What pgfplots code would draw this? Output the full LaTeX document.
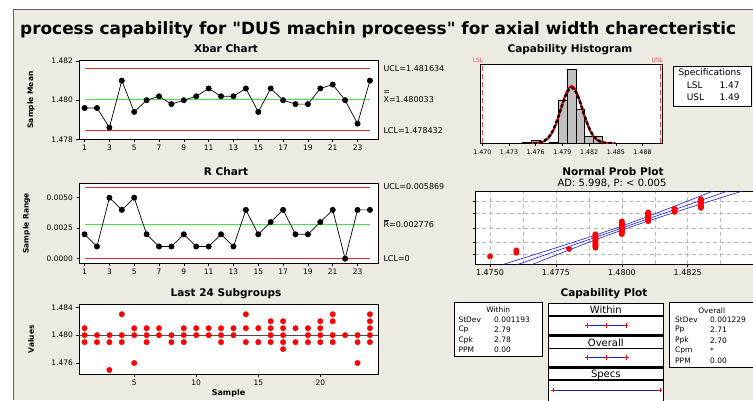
\documentclass[border=0pt]{standalone}
\usepackage{fontspec}
\setmainfont{DejaVu Sans}
\usepackage{pgfplots}
\pgfplotsset{compat=1.18}
\definecolor{bg}{RGB}{237,234,225}
\definecolor{frm}{RGB}{95,95,95}
\definecolor{clred}{RGB}{236,40,45}
\definecolor{clgreen}{RGB}{60,232,60}
\definecolor{ptred}{RGB}{255,0,0}
\definecolor{hgray}{RGB}{192,192,192}
\definecolor{nblue}{RGB}{25,25,235}
\definecolor{slred}{RGB}{255,70,70}
\newcommand\fs[1]{\fontsize{#1}{#1}\selectfont}
\pgfplotsset{
  mini/.style={
    scale only axis, anchor=south west,
    axis background/.style={fill=white},
    tick align=outside, tick pos=left,
    major tick length=2.5pt, minor tick length=0pt,
    every tick/.style={black, line width=0.5pt},
    axis line style={line width=0.7pt},
    /pgf/number format/assume math mode=true,
    tick label style={font=\fs{7.5}},
    scaled ticks=false,
    xlabel style={font=\bfseries\fs{8}},
    ylabel style={font=\bfseries\fs{7.5}, anchor=center},
  },
}
\begin{document}
\begin{tikzpicture}
\useasboundingbox (0,0) rectangle (753pt,400pt);
\clip (0,0) rectangle (753pt,400pt);
\fill[white] (0,0) rectangle (753pt,400pt);
\fill[bg] (13pt,0) rectangle (753pt,391pt);
\draw[frm, line width=1.5pt] (13.5pt,0) -- (13.5pt,390.5pt) -- (753pt,390.5pt);
\node[anchor=base west, font=\bfseries\fs{16.9}, inner sep=0] at (20pt,365.7pt) {process capability for \textquotedbl DUS machin proceess\textquotedbl{} for axial width charecteristic};

% subplot titles
\node[anchor=base, font=\bfseries\fs{10.5}, inner sep=0] at (226pt,347pt) {Xbar Chart};
\node[anchor=base, font=\bfseries\fs{10.5}, inner sep=0] at (226pt,225pt) {R Chart};
\node[anchor=base, font=\bfseries\fs{10.5}, inner sep=0] at (226pt,104pt) {Last 24 Subgroups};
\node[anchor=base, font=\bfseries\fs{10.5}, inner sep=0] at (570pt,347pt) {Capability Histogram};
\node[anchor=base, font=\bfseries\fs{10.5}, inner sep=0] at (613pt,225pt) {Normal Prob Plot};
\node[anchor=base, font=\fs{10}, inner sep=0] at (612pt,214pt) {AD: 5.998, P: < 0.005};
\node[anchor=base, font=\bfseries\fs{10.5}, inner sep=0] at (604pt,103.3pt) {Capability Plot};

% Xbar chart
\begin{axis}[mini, at={(79pt,260.7pt)}, width=299pt, height=78.6pt,
  xmin=0.55, xmax=24.65, ymin=1.478, ymax=1.48202,
  xtick={1,3,...,23}, ytick={1.478,1.480,1.482},
  yticklabel style={/pgf/number format/fixed, /pgf/number format/fixed zerofill, /pgf/number format/precision=3},
  ylabel={Sample Mean}, ylabel style={at={(axis description cs:-0.16,0.5)}}]
\addplot[clred, line width=0.9pt] coordinates {(1,1.481634) (24,1.481634)};
\addplot[clred, line width=0.9pt] coordinates {(1,1.478432) (24,1.478432)};
\addplot[clgreen, line width=0.9pt] coordinates {(1,1.480033) (24,1.480033)};
\addplot[black, line width=0.7pt, mark=*, mark size=2.6pt] coordinates {
(1,1.4796) (2,1.4796) (3,1.4786) (4,1.4810) (5,1.4794) (6,1.4800) (7,1.4802) (8,1.4798)
(9,1.4800) (10,1.4802) (11,1.4806) (12,1.4802) (13,1.4802) (14,1.4806) (15,1.4794) (16,1.4806)
(17,1.4800) (18,1.4798) (19,1.4798) (20,1.4806) (21,1.4808) (22,1.4800) (23,1.4788) (24,1.4810)};
\end{axis}
\node[anchor=west, font=\fs{8}] at (380pt,331pt) {UCL=1.481634};
\node[anchor=west, font=\fs{8}] at (380pt,300pt) {X=1.480033};
\node[anchor=center, font=\fs{8}, inner sep=0] at (386.8pt,307.5pt) {=};
\node[anchor=west, font=\fs{8}] at (380pt,269.3pt) {LCL=1.478432};

% R chart
\begin{axis}[mini, at={(79pt,136.7pt)}, width=299pt, height=80pt,
  xmin=0.55, xmax=24.65, ymin=-0.000377, ymax=0.00618,
  xtick={1,3,...,23}, ytick={0,0.0025,0.005},
  yticklabel style={/pgf/number format/fixed, /pgf/number format/fixed zerofill, /pgf/number format/precision=4},
  ylabel={Sample Range}, ylabel style={at={(axis description cs:-0.175,0.5)}}]
\addplot[clred, line width=0.9pt] coordinates {(1,0.005869) (24,0.005869)};
\addplot[clred, line width=0.9pt] coordinates {(1,0) (24,0)};
\addplot[clgreen, line width=0.9pt] coordinates {(1,0.002776) (24,0.002776)};
\addplot[black, line width=0.7pt, mark=*, mark size=2.6pt] coordinates {
(1,0.002) (2,0.001) (3,0.005) (4,0.004) (5,0.005) (6,0.002) (7,0.001) (8,0.001)
(9,0.002) (10,0.001) (11,0.001) (12,0.002) (13,0.001) (14,0.004) (15,0.002) (16,0.003)
(17,0.004) (18,0.002) (19,0.002) (20,0.003) (21,0.004) (22,0) (23,0.004) (24,0.004)};
\end{axis}
\node[anchor=west, font=\fs{8}] at (380pt,213.3pt) {UCL=0.005869};
\node[anchor=west, font=\fs{8}] at (380pt,176pt) {$\overline{\mbox{R}}$=0.002776};
\node[anchor=west, font=\fs{8}] at (380pt,141.7pt) {LCL=0};

% Last 24 subgroups
\begin{axis}[mini, at={(79pt,25.7pt)}, width=299pt, height=70pt,
  xmin=0.55, xmax=24.65, ymin=1.47438, ymax=1.48443,
  xtick={5,10,15,20}, ytick={1.476,1.480,1.484},
  yticklabel style={/pgf/number format/fixed, /pgf/number format/fixed zerofill, /pgf/number format/precision=3},
  xlabel={Sample}, xlabel style={at={(axis description cs:0.5,-0.27)}, anchor=center},
  ylabel={Values}, ylabel style={at={(axis description cs:-0.16,0.5)}}]
\addplot[black!70, line width=0.8pt] coordinates {(0.55,1.480033) (24.65,1.480033)};
\addplot[only marks, mark=*, mark size=2.7pt, ptred, mark options={draw=ptred, fill=ptred}] coordinates {
(1,1.481) (1,1.480) (1,1.479)
(2,1.480) (2,1.479)
(3,1.480) (3,1.479) (3,1.475)
(4,1.483) (4,1.480) (4,1.479)
(5,1.481) (5,1.480) (5,1.476)
(6,1.481) (6,1.480) (6,1.479)
(7,1.481) (7,1.480)
(8,1.480) (8,1.479)
(9,1.481) (9,1.480) (9,1.479)
(10,1.481) (10,1.480)
(11,1.481) (11,1.480)
(12,1.481) (12,1.480) (12,1.479)
(13,1.481) (13,1.480)
(14,1.483) (14,1.481) (14,1.479)
(15,1.481) (15,1.479)
(16,1.482) (16,1.481) (16,1.480) (16,1.479)
(17,1.482) (17,1.481) (17,1.480) (17,1.479) (17,1.478)
(18,1.481) (18,1.479)
(19,1.481) (19,1.480) (19,1.479)
(20,1.482) (20,1.481) (20,1.480) (20,1.479)
(21,1.483) (21,1.482) (21,1.480) (21,1.479)
(22,1.480)
(23,1.480) (23,1.479) (23,1.476)
(24,1.483) (24,1.482) (24,1.481) (24,1.480) (24,1.479)};
\end{axis}

% Capability histogram
\begin{axis}[mini, at={(480pt,256.7pt)}, width=182.7pt, height=78.8pt,
  xmin=1.46974, xmax=1.49027, ymin=0, ymax=55.3,
  xtick={1.470,1.473,1.476,1.479,1.482,1.485,1.488}, ytick=\empty,
  tick label style={font=\fs{6.3}},
  xticklabel style={/pgf/number format/fixed, /pgf/number format/fixed zerofill, /pgf/number format/precision=3}]
\addplot[ybar, bar width=0.001, bar shift=0pt, fill=hgray, draw=black, line width=0.5pt] coordinates {
(1.475,1) (1.476,2) (1.478,1) (1.479,30) (1.480,52) (1.481,24) (1.482,5) (1.483,5)};
\addplot[slred, line width=1.1pt, dash pattern=on 5pt off 3pt] coordinates {(1.47,0) (1.47,55.3)};
\addplot[slred, line width=1.1pt, dash pattern=on 5pt off 3pt] coordinates {(1.49,0) (1.49,55.3)};
\addplot[ptred, line width=2pt, smooth] coordinates {
(1.475261,0.013) (1.4758575,0.088) (1.476454,0.446) (1.4767523,0.915) (1.4770505,1.763)
(1.4773488,3.193) (1.477647,5.431) (1.4779453,8.679) (1.4782435,13.028) (1.4785418,18.373)
(1.47884,24.340) (1.4791383,30.292) (1.4794365,35.415) (1.4797348,38.895) (1.480033,40.13)
(1.4803313,38.895) (1.4806295,35.415) (1.4809278,30.292) (1.481226,24.340) (1.4815243,18.373)
(1.4818225,13.028) (1.4821208,8.679) (1.482419,5.431) (1.4827173,3.193) (1.4830155,1.763)
(1.4833138,0.915) (1.483612,0.446) (1.4842085,0.088) (1.484805,0.013)};
\addplot[black, line width=2.4pt, smooth, dash pattern=on 3.5pt off 2pt] coordinates {
(1.475117,0.013) (1.4757315,0.085) (1.476346,0.433) (1.4766533,0.888) (1.4769605,1.711)
(1.4772678,3.099) (1.477575,5.271) (1.4778823,8.424) (1.4781895,12.645) (1.4784968,17.833)
(1.478804,23.624) (1.4791113,29.401) (1.4794185,34.373) (1.4797258,37.752) (1.480033,38.95)
(1.4803403,37.752) (1.4806475,34.373) (1.4809548,29.401) (1.481262,23.624) (1.4815693,17.833)
(1.4818765,12.645) (1.4821838,8.424) (1.482491,5.271) (1.4827983,3.099) (1.4831055,1.711)
(1.4834128,0.888) (1.48372,0.433) (1.4843345,0.085) (1.484949,0.013)};
\end{axis}
\node[font=\fs{6}, text=slred, inner sep=0] at (478pt,339.2pt) {LSL};
\node[font=\fs{6}, text=slred, inner sep=0] at (657.5pt,339.2pt) {USL};
% Specifications box
\draw[black, line width=0.8pt, fill=white] (673.3pt,294pt) rectangle (751.7pt,333.3pt);
\node[anchor=west, font=\fs{9}, inner sep=0] at (678.3pt,326.7pt) {Specifications};
\node[anchor=west, font=\fs{9}, inner sep=0] at (686.7pt,314.3pt) {LSL};
\node[anchor=west, font=\fs{9}, inner sep=0] at (719.3pt,314.3pt) {1.47};
\node[anchor=west, font=\fs{9}, inner sep=0] at (686.7pt,302.3pt) {USL};
\node[anchor=west, font=\fs{9}, inner sep=0] at (719.3pt,302.3pt) {1.49};

% Normal probability plot
\begin{axis}[mini, at={(475pt,136pt)}, width=281pt, height=72.5pt,
  xmin=1.474431, xmax=1.485091, ymin=-3.2, ymax=3.2,
  xtick={1.475,1.4775,1.48,1.4825}, minor xtick={1.47625,1.47875,1.48125,1.48375},
  ytick={-2.326,-1.2816,0,1.2816,2.326}, yticklabels={},
  grid=both, grid style={dash pattern=on 4pt off 3pt, gray!55, line width=0.5pt},
  minor grid style={dash pattern=on 4pt off 3pt, gray!55, line width=0.5pt},
  tick label style={font=\fs{8}},
  xticklabel style={/pgf/number format/fixed, /pgf/number format/fixed zerofill, /pgf/number format/precision=4}]
\addplot[nblue, line width=0.6pt, smooth] coordinates {
(1.4754857,-3.25) (1.475829,-3) (1.476513,-2.5) (1.477193,-2) (1.477869,-1.5) (1.478534,-1)
(1.479186,-0.5) (1.479813,0) (1.480415,0.5) (1.480992,1) (1.481556,1.5) (1.482109,2)
(1.482658,2.5) (1.483203,3) (1.4834743,3.25)};
\addplot[nblue, line width=0.6pt, smooth] coordinates {
(1.4765917,-3.25) (1.476864,-3) (1.477409,-2.5) (1.477957,-2) (1.478511,-1.5) (1.479074,-1)
(1.479652,-0.5) (1.480253,0) (1.480881,0.5) (1.481532,1) (1.482198,1.5) (1.482873,2)
(1.483554,2.5) (1.484238,3) (1.4845803,3.25)};
\addplot[nblue, line width=0.6pt] coordinates {(1.4760387,-3.25) (1.4840273,3.25)};
\addplot[only marks, mark=*, mark size=2.7pt, mark options={draw=ptred, fill=ptred}] coordinates {
(1.475,-2.524)
(1.476,-2.194) (1.476,-2.006)
(1.478,-1.870)
(1.479,-1.762) (1.479,-1.65) (1.479,-1.55) (1.479,-1.45) (1.479,-1.35) (1.479,-1.25) (1.479,-1.15)
(1.479,-1.05) (1.479,-0.95) (1.479,-0.85) (1.479,-0.75) (1.479,-0.65) (1.479,-0.583)
(1.480,-0.559) (1.480,-0.45) (1.480,-0.35) (1.480,-0.25) (1.480,-0.15) (1.480,-0.05)
(1.480,0.05) (1.480,0.15) (1.480,0.25) (1.480,0.35) (1.480,0.45) (1.480,0.558)
(1.481,0.583) (1.481,0.68) (1.481,0.78) (1.481,0.88) (1.481,0.98) (1.481,1.08) (1.481,1.18) (1.481,1.28) (1.481,1.347)
(1.482,1.401) (1.482,1.47) (1.482,1.54) (1.482,1.61) (1.482,1.672)
(1.483,1.764) (1.483,1.85) (1.483,1.95) (1.483,2.05) (1.483,2.15) (1.483,2.25) (1.483,2.35) (1.483,2.45) (1.483,2.524)};
\end{axis}

% Capability plot frames
\draw[black, line width=0.8pt, fill=white] (454pt,43.3pt) rectangle (542.7pt,97.3pt);
\draw[black, line width=0.8pt, fill=white] (669.3pt,32.7pt) rectangle (760pt,97.3pt);
\draw[black, line width=1.2pt, fill=white] (548.3pt,84pt) rectangle (663.3pt,96.7pt);
\draw[black, line width=1.2pt, fill=white] (548.3pt,65pt) rectangle (663.3pt,84pt);
\draw[black, line width=1.2pt, fill=white] (548.3pt,51.7pt) rectangle (663.3pt,63.7pt);
\draw[black, line width=1.2pt, fill=white] (548.3pt,33pt) rectangle (663.3pt,51.7pt);
\draw[black, line width=1.2pt, fill=white] (548.3pt,20pt) rectangle (663.3pt,31.7pt);
\draw[black, line width=1.2pt, fill=white] (548.3pt,-3pt) rectangle (663.3pt,20pt);
\node[font=\fs{10}, inner sep=0] at (605.8pt,90.5pt) {Within};
\node[font=\fs{10}, inner sep=0] at (605.8pt,57.5pt) {Overall};
\node[font=\fs{10}, inner sep=0] at (605.8pt,25.5pt) {Specs};
\node[font=\fs{7.5}, inner sep=0] at (498.3pt,90pt) {Within};
\node[anchor=west, font=\fs{7.5}, inner sep=0] at (458.3pt,80.7pt) {StDev};
\node[anchor=west, font=\fs{7.5}, inner sep=0] at (494pt,80.7pt) {0.001193};
\node[anchor=west, font=\fs{7.5}, inner sep=0] at (458.3pt,70.7pt) {Cp};
\node[anchor=west, font=\fs{7.5}, inner sep=0] at (494pt,70.7pt) {2.79};
\node[anchor=west, font=\fs{7.5}, inner sep=0] at (458.3pt,60pt) {Cpk};
\node[anchor=west, font=\fs{7.5}, inner sep=0] at (494pt,60pt) {2.78};
\node[anchor=west, font=\fs{7.5}, inner sep=0] at (458.3pt,50pt) {PPM};
\node[anchor=west, font=\fs{7.5}, inner sep=0] at (494pt,50pt) {0.00};
\node[font=\fs{7.5}, inner sep=0] at (711.7pt,89.3pt) {Overall};
\node[anchor=west, font=\fs{7.5}, inner sep=0] at (675pt,80.7pt) {StDev};
\node[anchor=west, font=\fs{7.5}, inner sep=0] at (710pt,80.7pt) {0.001229};
\node[anchor=west, font=\fs{7.5}, inner sep=0] at (675pt,70pt) {Pp};
\node[anchor=west, font=\fs{7.5}, inner sep=0] at (710pt,70pt) {2.71};
\node[anchor=west, font=\fs{7.5}, inner sep=0] at (675pt,59.3pt) {Ppk};
\node[anchor=west, font=\fs{7.5}, inner sep=0] at (710pt,59.3pt) {2.70};
\node[anchor=west, font=\fs{7.5}, inner sep=0] at (675pt,49.3pt) {Cpm};
\node[anchor=west, font=\fs{7.5}, inner sep=0] at (710pt,49.3pt) {*};
\node[anchor=west, font=\fs{7.5}, inner sep=0] at (675pt,39.3pt) {PPM};
\node[anchor=west, font=\fs{7.5}, inner sep=0] at (710pt,39.3pt) {0.00};

\begin{axis}[hide axis, scale only axis, anchor=south west, at={(548.3pt,0pt)},
  width=115pt, height=100pt, xmin=1.469063, xmax=1.490619, ymin=300, ymax=400,
  y dir=reverse, clip=false]
\addplot[nblue, line width=0.8pt, mark=+, mark size=2.3pt, mark options={ptred, line width=0.8pt}] coordinates {
(1.476454,325.7) (1.480033,325.7) (1.483612,325.7)};
\addplot[nblue, line width=0.8pt, mark=+, mark size=2.3pt, mark options={ptred, line width=0.8pt}] coordinates {
(1.476346,357.7) (1.480033,357.7) (1.48372,357.7)};
\addplot[nblue, line width=0.8pt, mark=+, mark size=2.3pt, mark options={ptred, line width=0.8pt}] coordinates {
(1.47,390) (1.49,390)};
\end{axis}
\end{tikzpicture}
\end{document}
